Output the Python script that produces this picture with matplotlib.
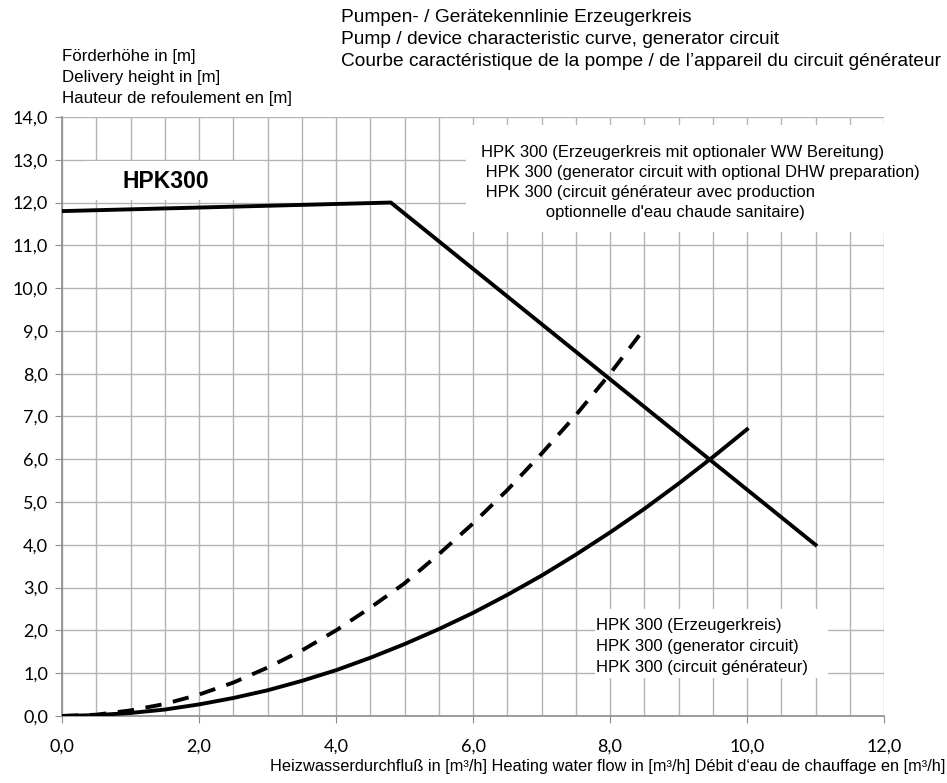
import matplotlib.pyplot as plt
from matplotlib.patches import Rectangle
from matplotlib.ticker import MultipleLocator, FuncFormatter

# pump / device characteristic curve
pump_flow = [0.0, 4.8, 11.0]
pump_head = [11.8, 12.0, 4.0]

# generator circuit (solid), read every 0.5 m3/h
gen_flow = [0, 0.5, 1, 1.5, 2, 2.5, 3, 3.5, 4, 4.5, 5, 5.5, 6, 6.5, 7, 7.5, 8, 8.5, 9, 9.5, 10]
gen_head = [0.0, 0.02, 0.07, 0.15, 0.27, 0.42, 0.60, 0.82, 1.07, 1.36, 1.68, 2.03,
            2.41, 2.83, 3.28, 3.77, 4.29, 4.84, 5.43, 6.05, 6.70]

# generator circuit with optional DHW (dashed)
dhw_flow = [0, 0.5, 1, 1.5, 2, 2.5, 3, 3.5, 4, 4.5, 5, 5.5, 6, 6.5, 7, 7.5, 8, 8.5]
dhw_head = [0.0, 0.03, 0.13, 0.28, 0.50, 0.78, 1.13, 1.53, 2.00, 2.53, 3.10, 3.78,
            4.50, 5.28, 6.13, 7.03, 8.00, 9.05]

title_lines = ["Pumpen- / Gerätekennlinie Erzeugerkreis",
               "Pump / device characteristic curve, generator circuit",
               "Courbe caractéristique de la pompe / de l’appareil du circuit générateur"]
ylabel_lines = ["Förderhöhe in [m]", "Delivery height in [m]", "Hauteur de refoulement en [m]"]
xlabel = "Heizwasserdurchfluß in [m³/h] Heating water flow in [m³/h] Débit d‘eau de chauffage en [m³/h]"
dhw_lines = ["HPK 300 (Erzeugerkreis mit optionaler WW Bereitung)",
             " HPK 300 (generator circuit with optional DHW preparation)",
             " HPK 300 (circuit générateur avec production",
             "              optionnelle d'eau chaude sanitaire)"]
gen_lines = ["HPK 300 (Erzeugerkreis)", "HPK 300 (generator circuit)", "HPK 300 (circuit générateur)"]

plt.rcParams['font.family'] = ['Liberation Sans', 'DejaVu Sans']

fig = plt.figure(figsize=(9.47, 7.83), dpi=100)
ax = fig.add_axes([0.0655, 0.0856, 0.868, 0.765])

ax.set_xlim(0, 12)
ax.set_ylim(0, 14)
ax.xaxis.set_major_locator(MultipleLocator(2))
ax.xaxis.set_minor_locator(MultipleLocator(0.5))
ax.yaxis.set_major_locator(MultipleLocator(1))
fmt = FuncFormatter(lambda v, p: f"{v:.1f}".replace(".", ","))
ax.xaxis.set_major_formatter(fmt)
ax.yaxis.set_major_formatter(fmt)

ax.grid(which='both', color='#b4b4b4', linewidth=1.0, zorder=0)
ax.set_axisbelow(True)
for s in ['top', 'right']:
    ax.spines[s].set_visible(False)
for s in ['left', 'bottom']:
    ax.spines[s].set_color('#8c8c8c')
    ax.spines[s].set_linewidth(1.2)
ax.tick_params(which='major', length=5, color='#8c8c8c', labelsize=13, pad=5)
ax.tick_params(axis='x', which='major', pad=11)
ax.tick_params(axis='x', which='minor', length=0)
for lab in ax.get_xticklabels() + ax.get_yticklabels():
    lab.set_family('Lato')

# white label boxes over the grid
ax.add_patch(Rectangle((5.9, 11.31), 6.3, 2.5, facecolor='white', edgecolor='none',
                       zorder=1, clip_on=False))
ax.add_patch(Rectangle((7.78, 0.89), 3.4, 1.6, facecolor='white', edgecolor='none', zorder=1))
ax.add_patch(Rectangle((0.35, 12.06), 2.6, 0.9, facecolor='white', edgecolor='none', zorder=1))

ax.plot(pump_flow, pump_head, color='black', linewidth=2.8, zorder=3)
ax.plot(gen_flow, gen_head, color='black', linewidth=2.8, zorder=3)
ax.plot(dhw_flow, dhw_head, color='black', linewidth=2.8, zorder=3, linestyle=(0, (4.2, 3)))

ax.text(0.88, 12.5, "HPK300", fontsize=16.5, fontweight='bold', va='center', zorder=4)

for i, line in enumerate(dhw_lines):
    ax.text(6.12, 13.18 - i * 0.467, line, fontsize=12, va='center', zorder=4)
for i, line in enumerate(gen_lines):
    ax.text(7.8, 2.12 - i * 0.49, line, fontsize=12, va='center', zorder=4)

for i, line in enumerate(title_lines):
    fig.text(341 / 947, 1 - (17 + i * 22.5) / 783, line, fontsize=13.8, va='center')
for i, line in enumerate(ylabel_lines):
    fig.text(62 / 947, 1 - (57 + i * 20.5) / 783, line, fontsize=12.2, va='center')
fig.text(945 / 947, 1 - 766 / 783, xlabel, fontsize=11.8, va='center', ha='right')

fig.savefig("out.png", dpi=100)
